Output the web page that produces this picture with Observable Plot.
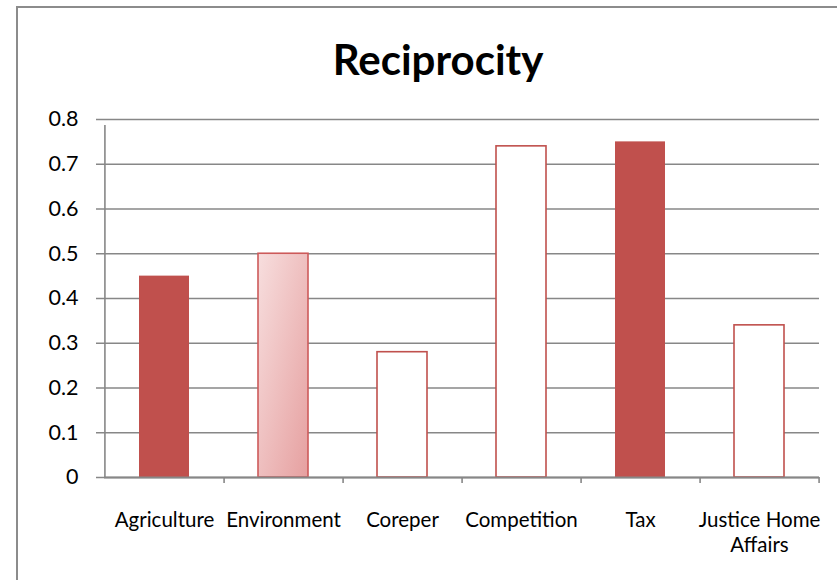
<!DOCTYPE html>
<html>
<head>
<meta charset="utf-8">
<script src="https://cdn.jsdelivr.net/npm/d3@7"></script>
<script src="https://cdn.jsdelivr.net/npm/@observablehq/plot@0.6"></script>
<style>
  html, body { margin: 0; padding: 0; background: #fff; }
  #wrap { position: relative; width: 837px; height: 580px; overflow: hidden; background: #fff; }
  #border { position: absolute; left: 16px; top: 6px; width: 900px; height: 700px;
            border: 2px solid #8c8c8c; box-sizing: border-box; pointer-events: none; }
  #chart { position: absolute; left: 0; top: 0; }
</style>
</head>
<body>
<div id="wrap">
  <div id="chart"></div>
  <div id="border"></div>
</div>
<script>
// Reciprocity score per Council configuration
const title = "Reciprocity";
const categories = ["Agriculture", "Environment", "Coreper", "Competition", "Tax", "Justice Home Affairs"];
const values = [0.45, 0.5, 0.28, 0.74, 0.75, 0.34];
const yTicks = [0, 0.1, 0.2, 0.3, 0.4, 0.5, 0.6, 0.7, 0.8];

const rows = categories.map((category, i) => ({category, value: values[i]}));

const red = "#c0504d";
const width = 837, height = 580;
const margin = {top: 119, right: 18, bottom: 103, left: 104};
const padInner = 0.58;
// band step with outer padding equal to half the inner padding
const step = (width - margin.left - margin.right) / categories.length;

// fill treatment of each bar
const fillOf = {
  "Agriculture": red,
  "Environment": "url(#envGradient)",
  "Coreper": "white",
  "Competition": "white",
  "Tax": red,
  "Justice Home Affairs": "white"
};
const strokeOf = {
  "Agriculture": "none",
  "Environment": "#cd5a5a",
  "Coreper": red,
  "Competition": red,
  "Tax": "none",
  "Justice Home Affairs": red
};

const grid = "#878787";

const chart = Plot.plot({
  width, height,
  marginTop: margin.top, marginRight: margin.right,
  marginBottom: margin.bottom, marginLeft: margin.left,
  style: {fontFamily: "Lato, 'Open Sans', sans-serif", color: "#000", background: "white"},
  x: {domain: categories, paddingInner: padInner, paddingOuter: padInner / 2},
  y: {domain: [0, 0.8], ticks: yTicks},
  marks: [
    Plot.gridY(yTicks, {stroke: grid, strokeOpacity: 1, strokeWidth: 1.5}),
    Plot.barY(rows, {
      x: "category", y: "value",
      fill: d => fillOf[d.category],
      stroke: d => strokeOf[d.category],
      strokeWidth: 1.6
    }),
    // value axis line
    Plot.ruleX([categories[0]], {x: d => d, dx: -step / 2, y1: 0, y2: 0.8, insetBottom: -6,
      stroke: grid, strokeWidth: 1.6}),
    // category axis line
    Plot.ruleY([0], {stroke: grid, strokeWidth: 2.2}),
    // tick marks between categories
    Plot.ruleX(categories, {x: d => d, dx: step / 2, y1: 0, y2: 0, insetBottom: -6,
      stroke: grid, strokeWidth: 1.6}),
    Plot.axisY(yTicks, {
      tickSize: 8, tickPadding: 18, fontSize: 21.5, stroke: grid, strokeWidth: 1.5,
      tickFormat: d => d === 0 ? "0" : d3.format(".1f")(d), label: null
    }),
    Plot.axisX({
      tickSize: 0, tickPadding: 31, fontSize: 20.5, lineHeight: 1.25, label: null,
      tickFormat: d => d.length > 12 ? d.replace(/ (\S+)$/, "\n$1") : d
    }),
    Plot.text([title], {
      frameAnchor: "top", lineAnchor: "middle", dy: -58, dx: -24,
      fontSize: 42, fontWeight: "bold", fill: "#000"
    })
  ]
});

// diagonal light-to-rose gradient used by the Environment bar
const defs = d3.select(chart).insert("defs", ":first-child");
const g = defs.append("linearGradient")
  .attr("id", "envGradient")
  .attr("x1", 0).attr("y1", 0).attr("x2", 1).attr("y2", 1);
g.append("stop").attr("offset", "0%").attr("stop-color", "#f7dede");
g.append("stop").attr("offset", "100%").attr("stop-color", "#e6a0a0");

document.getElementById("chart").appendChild(chart);
</script>
</body>
</html>
